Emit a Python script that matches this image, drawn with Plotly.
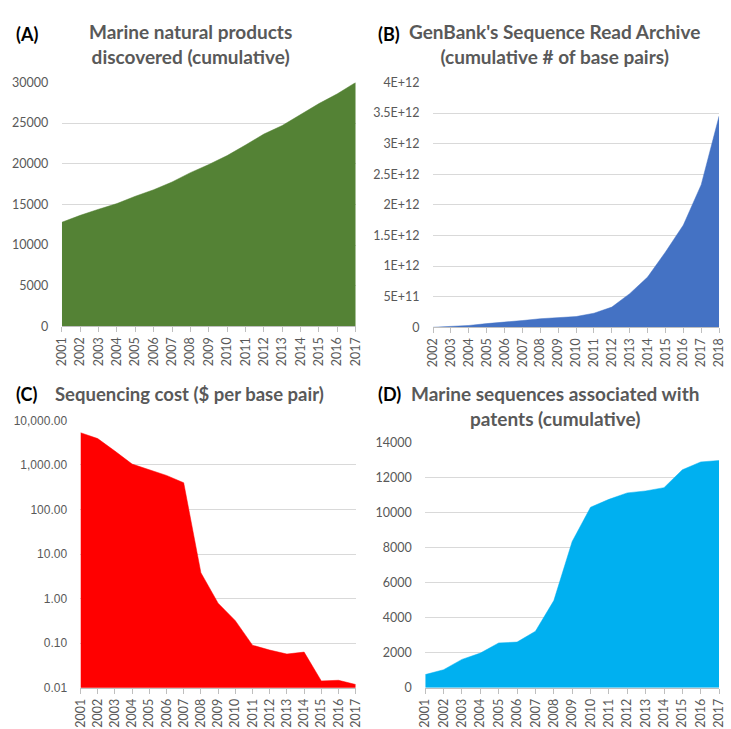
import plotly.graph_objects as go

# ---- data -------------------------------------------------------------
years_a = [2001, 2002, 2003, 2004, 2005, 2006, 2007, 2008, 2009,
           2010, 2011, 2012, 2013, 2014, 2015, 2016, 2017]
marine_products = [12800, 13650, 14400, 15100, 16000, 16800, 17750, 18900, 19900,
                   21000, 22300, 23650, 24700, 26100, 27400, 28600, 30000]

years_b = [2002, 2003, 2004, 2005, 2006, 2007, 2008, 2009, 2010,
           2011, 2012, 2013, 2014, 2015, 2016, 2017, 2018]
sra_base_pairs = [0, 0.01e12, 0.03e12, 0.06e12, 0.08e12, 0.11e12, 0.14e12, 0.16e12, 0.175e12,
                  0.23e12, 0.33e12, 0.55e12, 0.82e12, 1.23e12, 1.67e12, 2.33e12, 3.45e12]
sra_tick_vals = [0, 5e11, 1e12, 1.5e12, 2e12, 2.5e12, 3e12, 3.5e12, 4e12]
sra_tick_text = ["0", "5E+11", "1E+12", "1.5E+12", "2E+12", "2.5E+12", "3E+12", "3.5E+12", "4E+12"]

years_c = years_a
seq_cost = [5292.39, 3898.64, 2043.41, 1045.0, 779.0, 581.0, 397.09, 3.81, 0.79,
            0.32, 0.09, 0.07, 0.057, 0.063, 0.0142, 0.0147, 0.0118]
cost_tick_vals = [0.01, 0.1, 1, 10, 100, 1000, 10000]
cost_tick_text = ["0.01", "0.10", "1.00", "10.00", "100.00", "1,000.00", "10,000.00"]

years_d = years_a
patent_sequences = [750, 1030, 1620, 1980, 2560, 2610, 3230, 4980, 8360,
                    10320, 10770, 11140, 11250, 11440, 12460, 12910, 12990]

panel_letters = ["(A)", "(B)", "(C)", "(D)"]
panel_titles = [
    "Marine natural products<br>discovered (cumulative)",
    "GenBank's Sequence Read Archive<br>(cumulative # of base pairs)",
    "Sequencing cost ($ per base pair)",
    "Marine sequences associated with<br>patents (cumulative)",
]

# ---- styling ----------------------------------------------------------
W, H = 731, 729
GREY_TXT = "#595959"
GRID = "#d9d9d9"
AXIS = "#bfbfbf"
FONT = "Lato"


def px_x(p):
    return p / W


def px_y(p):
    return 1 - p / H


fig = go.Figure()

panels = [
    dict(x=years_a, y=marine_products, color="#548235",
         xdom=(55, 355), ydom=(76, 325)),
    dict(x=years_b, y=sra_base_pairs, color="#4472C4",
         xdom=(434, 726), ydom=(76, 326)),
    dict(x=years_c, y=seq_cost, color="#FF0000",
         xdom=(74, 355), ydom=(421, 694)),
    dict(x=years_d, y=patent_sequences, color="#00B0F0",
         xdom=(426, 726), ydom=(444, 694)),
]

for i, p in enumerate(panels, start=1):
    sfx = "" if i == 1 else str(i)
    fig.add_trace(go.Scatter(
        x=p["x"], y=p["y"], mode="lines", fill="tozeroy",
        fillcolor=p["color"], line=dict(color=p["color"], width=0.5),
        xaxis="x" + sfx, yaxis="y" + sfx, showlegend=False, hoverinfo="x+y",
    ))
    fig.layout["xaxis" + sfx] = dict(
        domain=[px_x(p["xdom"][0]), px_x(p["xdom"][1])],
        anchor="y" + sfx,
        range=[p["x"][0], p["x"][-1]],
        tickvals=p["x"], ticktext=[str(v) for v in p["x"]],
        tickangle=-90,
        tickfont=dict(family=FONT, size=12.5, color=GREY_TXT),
        showgrid=False, zeroline=False,
        showline=True, linecolor=AXIS, linewidth=1,
        ticks="outside", ticklen=5, tickcolor=AXIS,
        fixedrange=True,
    )
    fig.layout["yaxis" + sfx] = dict(
        domain=[px_y(p["ydom"][1]), px_y(p["ydom"][0])],
        anchor="x" + sfx,
        showgrid=True, gridcolor=GRID, gridwidth=1,
        zeroline=False, showline=False,
        ticks="outside", ticklen=10, tickcolor="rgba(0,0,0,0)",
        tickfont=dict(family=FONT, size=12.5, color=GREY_TXT),
        tickformat="d",
        fixedrange=True,
    )

fig.layout.yaxis.update(range=[0, 30000], dtick=5000, tick0=0)
fig.layout.yaxis2.update(range=[0, 4e12], tickvals=sra_tick_vals, ticktext=sra_tick_text)
fig.layout.yaxis3.update(type="log", range=[-2, 4], tickvals=cost_tick_vals,
                         ticktext=cost_tick_text,
                         tickfont=dict(family="Liberation Sans", size=12, color=GREY_TXT))
fig.layout.yaxis4.update(range=[0, 14000], dtick=2000, tick0=0)

# panel letters (left-aligned) and centred titles
letter_pos = [(6, 27), (376, 27), (6, 394), (376, 394)]
title_pos = [(186, 37), (558, 37), (185, 394), (558, 406)]
title_sizes = [19, 19, 18.5, 19]
for letter, (lx, ly) in zip(panel_letters, letter_pos):
    fig.add_annotation(text="<b>%s</b>" % letter, x=px_x(lx), y=px_y(ly),
                       xref="paper", yref="paper", showarrow=False,
                       xanchor="left", yanchor="middle",
                       font=dict(family=FONT, size=18, color="#000000"))
for title, (tx, ty), fs in zip(panel_titles, title_pos, title_sizes):
    fig.add_annotation(text="<b>%s</b>" % title, x=px_x(tx), y=px_y(ty),
                       xref="paper", yref="paper", showarrow=False,
                       xanchor="center", yanchor="middle",
                       font=dict(family=FONT, size=fs, color=GREY_TXT))

fig.update_layout(
    width=W, height=H,
    margin=dict(l=0, r=0, t=0, b=0),
    paper_bgcolor="white", plot_bgcolor="white",
)

fig.write_html("out.html")
